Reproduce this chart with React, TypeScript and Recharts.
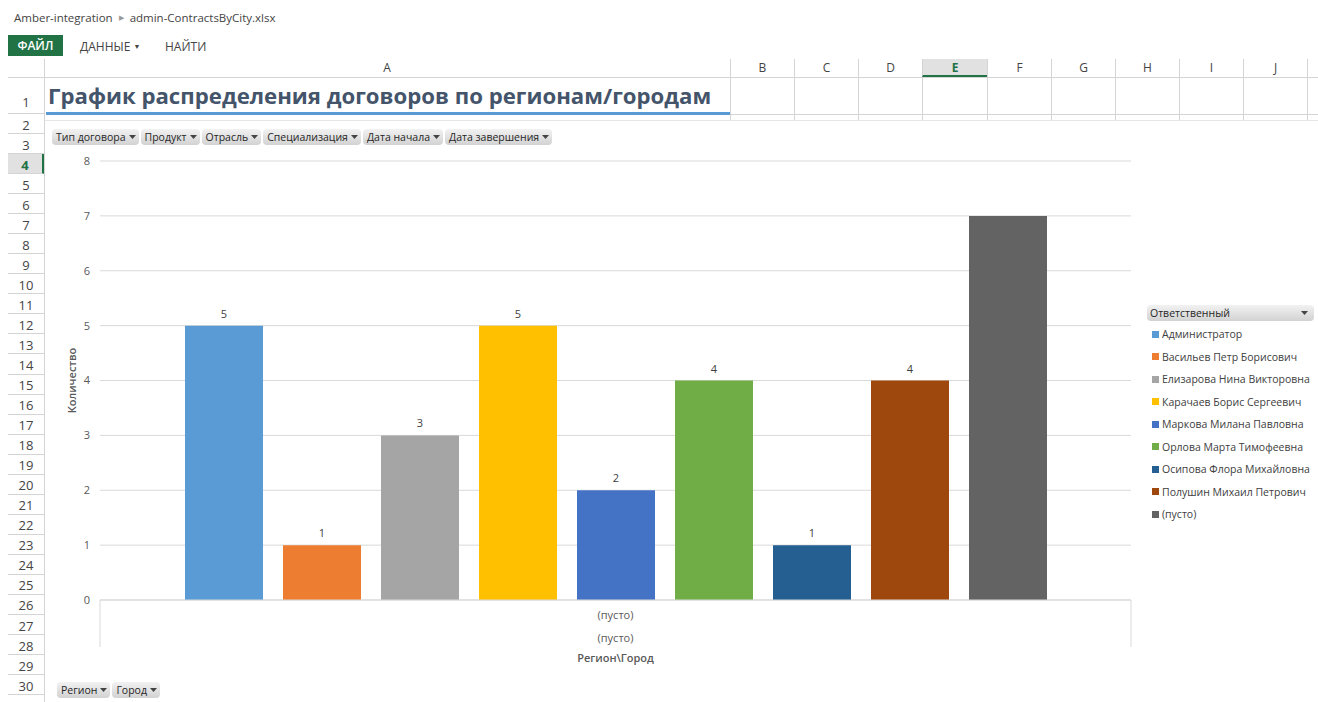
import React from 'react';
import { BarChart, Bar, XAxis, YAxis, CartesianGrid, LabelList } from 'recharts';

const seriesNames = [
  'Администратор',
  'Васильев Петр Борисович',
  'Елизарова Нина Викторовна',
  'Карачаев Борис Сергеевич',
  'Маркова Милана Павловна',
  'Орлова Марта Тимофеевна',
  'Осипова Флора Михайловна',
  'Полушин Михаил Петрович',
  '(пусто)',
];
const seriesValues = [5, 1, 3, 5, 2, 4, 1, 4, 7];
const seriesColors = ['#5B9BD5', '#ED7D31', '#A5A5A5', '#FFC000', '#4472C4', '#70AD47', '#255E91', '#9E480E', '#636363'];
// the "(пусто)" series has no data label in the original
const seriesLabelled = [true, true, true, true, true, true, true, true, false];
const cities = ['(пусто)'];
const regions = ['(пусто)'];
const yTicks = [0, 1, 2, 3, 4, 5, 6, 7, 8];

const columnNames = ['B', 'C', 'D', 'E', 'F', 'G', 'H', 'I', 'J', ''];
const rowNumbers = Array.from({ length: 30 }, (_, i) => i + 1);
const filterFields = ['Тип договора', 'Продукт', 'Отрасль', 'Специализация', 'Дата начала', 'Дата завершения'];
const axisFields = ['Регион', 'Город'];

const UI_FONT = '"Open Sans", "Noto Sans", sans-serif';
const LINE = '#d4d4d4';

const chartData = cities.map((city, i) => {
  const row: Record<string, string | number> = { city, region: regions[i] };
  seriesValues.forEach((v, k) => {
    row['s' + k] = v;
  });
  return row;
});

function Arrow() {
  return (
    <svg width={7} height={4} style={{ marginLeft: 3 }}>
      <polygon points="0,0 7,0 3.5,4" fill="#444" />
    </svg>
  );
}

function FieldButton({ label }: { label: string }) {
  return (
    <div
      style={{
        display: 'flex',
        alignItems: 'center',
        height: 16,
        padding: '0 3px 0 4px',
        borderRadius: 4,
        background: 'linear-gradient(#f2f2f2, #d2d2d2)',
        fontSize: 10.5,
        color: '#262626',
        whiteSpace: 'nowrap',
      }}
    >
      {label}
      <Arrow />
    </div>
  );
}

function CategoryTick(props: any) {
  const { x, y, payload, index } = props;
  const half = (props.width || 1031) / cities.length / 2;
  return (
    <g>
      <line x1={x - half} y1={y} x2={x - half} y2={y + 47} stroke="#d9d9d9" />
      <line x1={x + half} y1={y} x2={x + half} y2={y + 47} stroke="#d9d9d9" />
      <text x={x} y={y + 19} textAnchor="middle" fontSize={11} fill="#595959">
        {payload.value}
      </text>
      <text x={x} y={y + 42} textAnchor="middle" fontSize={11} fill="#595959">
        {regions[index]}
      </text>
    </g>
  );
}

function rowTop(r: number) {
  return r === 1 ? 77 : 114 + (r - 2) * 20.04;
}

export default function App() {
  const colLefts = [730, 794, 858, 922, 987, 1051, 1115, 1179, 1243, 1307];
  return (
    <div
      style={{
        position: 'absolute',
        left: 0,
        top: 0,
        width: 1318,
        height: 702,
        overflow: 'hidden',
        background: '#fff',
        fontFamily: UI_FONT,
      }}
    >
      {/* breadcrumb */}
      <div style={{ position: 'absolute', left: 14, top: 10, fontSize: 11.5, color: '#444', whiteSpace: 'nowrap' }}>
        Amber-integration
        <span style={{ color: '#999', fontSize: 7, margin: '0 6px', position: 'relative', top: -2 }}>▶</span>
        admin-ContractsByCity.xlsx
      </div>

      {/* ribbon */}
      <div
        style={{
          position: 'absolute',
          left: 8,
          top: 35,
          width: 55,
          height: 21,
          background: '#217346',
          color: '#fff',
          fontSize: 12,
          fontWeight: 600,
          lineHeight: '21px',
          textAlign: 'center',
        }}
      >
        ФАЙЛ
      </div>
      <div style={{ position: 'absolute', left: 80, top: 38, fontSize: 12, color: '#444' }}>
        ДАННЫЕ <span style={{ fontSize: 7, position: 'relative', top: -2 }}>▼</span>
      </div>
      <div style={{ position: 'absolute', left: 165, top: 38, fontSize: 12, color: '#444' }}>НАЙТИ</div>

      {/* column header row */}
      <div style={{ position: 'absolute', left: 8, top: 59, width: 1310, height: 18, borderBottom: `1px solid ${LINE}` }} />
      <div style={{ position: 'absolute', left: 44, top: 59, width: 1, height: 643, background: LINE }} />
      <div
        style={{
          position: 'absolute',
          left: 44,
          top: 59,
          width: 686,
          height: 18,
          textAlign: 'center',
          fontSize: 12,
          lineHeight: '18px',
          color: '#444',
        }}
      >
        A
      </div>
      {columnNames.map((c, i) => {
        const left = colLefts[i];
        const width = i < colLefts.length - 1 ? colLefts[i + 1] - left : 1318 - left;
        const active = c === 'E';
        return (
          <div key={'c' + i}>
            <div
              style={{
                position: 'absolute',
                left,
                top: 59,
                width,
                height: 18,
                boxSizing: 'border-box',
                borderLeft: `1px solid ${LINE}`,
                background: active ? '#e1e1e1' : 'transparent',
                borderBottom: active ? '2px solid #217346' : 'none',
                textAlign: 'center',
                fontSize: 12,
                lineHeight: '18px',
                color: active ? '#217346' : '#444',
                fontWeight: active ? 700 : 400,
              }}
            >
              {c}
            </div>
            <div style={{ position: 'absolute', left, top: 77, width: 1, height: 43, background: LINE }} />
          </div>
        );
      })}
      <div style={{ position: 'absolute', left: 730, top: 114, width: 588, height: 1, background: LINE }} />

      {/* row headers */}
      {rowNumbers.map((r) => {
        const top = rowTop(r);
        const h = r === 1 ? 37 : 20.04;
        const active = r === 4;
        return (
          <div
            key={'r' + r}
            style={{
              position: 'absolute',
              left: 8,
              top,
              width: 36,
              height: h,
              boxSizing: 'border-box',
              borderBottom: `1px solid ${LINE}`,
              borderRight: active ? '2px solid #217346' : 'none',
              background: active ? '#e1e1e1' : 'transparent',
              display: 'flex',
              alignItems: r === 1 ? 'flex-end' : 'center',
              justifyContent: 'center',
              paddingBottom: r === 1 ? 2 : 0,
              paddingTop: r === 1 ? 0 : 2,
              fontSize: 13,
              color: active ? '#217346' : '#444',
              fontWeight: active ? 700 : 400,
            }}
          >
            {r}
          </div>
        );
      })}

      {/* title */}
      <div
        style={{
          position: 'absolute',
          left: 48,
          top: 81,
          fontSize: 22.2,
          fontWeight: 700,
          color: '#44546A',
          whiteSpace: 'nowrap',
          lineHeight: '30px',
        }}
      >
        График распределения договоров по регионам/городам
      </div>
      <div style={{ position: 'absolute', left: 46, top: 112, width: 684, height: 3, background: '#5B9BD5' }} />

      {/* chart object */}
      <div
        style={{
          position: 'absolute',
          left: 45,
          top: 120,
          width: 1273,
          height: 582,
          background: '#fff',
          borderTop: '1px solid #e6e6e6',
        }}
      />
      <div style={{ position: 'absolute', left: 52, top: 129, display: 'flex', gap: 2 }}>
        {filterFields.map((f) => (
          <FieldButton key={f} label={f} />
        ))}
      </div>

      <div style={{ position: 'absolute', left: 44, top: 120 }}>
        <BarChart
          width={1274}
          height={582}
          data={chartData}
          margin={{ top: 41, right: 187, bottom: 32, left: 0 }}
          barGap={20}
          style={{ fontFamily: UI_FONT }}
        >
          <CartesianGrid vertical={false} stroke="#d9d9d9" />
          <XAxis
            dataKey="city"
            height={70}
            axisLine={{ stroke: '#d9d9d9' }}
            tickLine={false}
            tickSize={0}
            tickMargin={0}
            tick={<CategoryTick />}
            label={{
              value: 'Регион\\Город',
              position: 'insideBottom',
              offset: 8,
              fill: '#595959',
              fontSize: 11,
              fontWeight: 600,
            }}
          />
          <YAxis
            type="number"
            domain={[0, 8]}
            ticks={yTicks}
            width={56}
            axisLine={false}
            tickLine={false}
            tickMargin={4}
            tick={{ fill: '#595959', fontSize: 11 }}
            label={{
              value: 'Количество',
              angle: -90,
              position: 'center',
              fill: '#595959',
              fontSize: 11,
              fontWeight: 600,
            }}
          />
          {seriesNames.map((name, k) => (
            <Bar key={name} dataKey={'s' + k} name={name} fill={seriesColors[k]} barSize={78} isAnimationActive={false}>
              {seriesLabelled[k] && (
                <LabelList dataKey={'s' + k} position="top" offset={8} fill="#404040" fontSize={11} />
              )}
            </Bar>
          ))}
        </BarChart>
      </div>

      {/* legend */}
      <div
        style={{
          position: 'absolute',
          left: 1147,
          top: 305,
          width: 167,
          height: 16,
          borderRadius: 4,
          background: 'linear-gradient(#f2f2f2, #d2d2d2)',
          fontSize: 10.5,
          lineHeight: '16px',
          color: '#262626',
          paddingLeft: 3,
          boxSizing: 'border-box',
        }}
      >
        Ответственный
        <svg width={7} height={4} style={{ position: 'absolute', right: 6, top: 6 }}>
          <polygon points="0,0 7,0 3.5,4" fill="#444" />
        </svg>
      </div>
      {seriesNames.map((name, k) => (
        <div
          key={'l' + k}
          style={{
            position: 'absolute',
            left: 1152,
            top: 326 + k * 22.5,
            height: 16,
            display: 'flex',
            alignItems: 'center',
            fontSize: 10.5,
            color: '#404040',
            whiteSpace: 'nowrap',
          }}
        >
          <span style={{ display: 'inline-block', width: 7, height: 7, background: seriesColors[k], marginRight: 3 }} />
          {name}
        </div>
      ))}

      {/* axis fields */}
      <div style={{ position: 'absolute', left: 57, top: 682, display: 'flex', gap: 2 }}>
        {axisFields.map((f) => (
          <FieldButton key={f} label={f} />
        ))}
      </div>
    </div>
  );
}
